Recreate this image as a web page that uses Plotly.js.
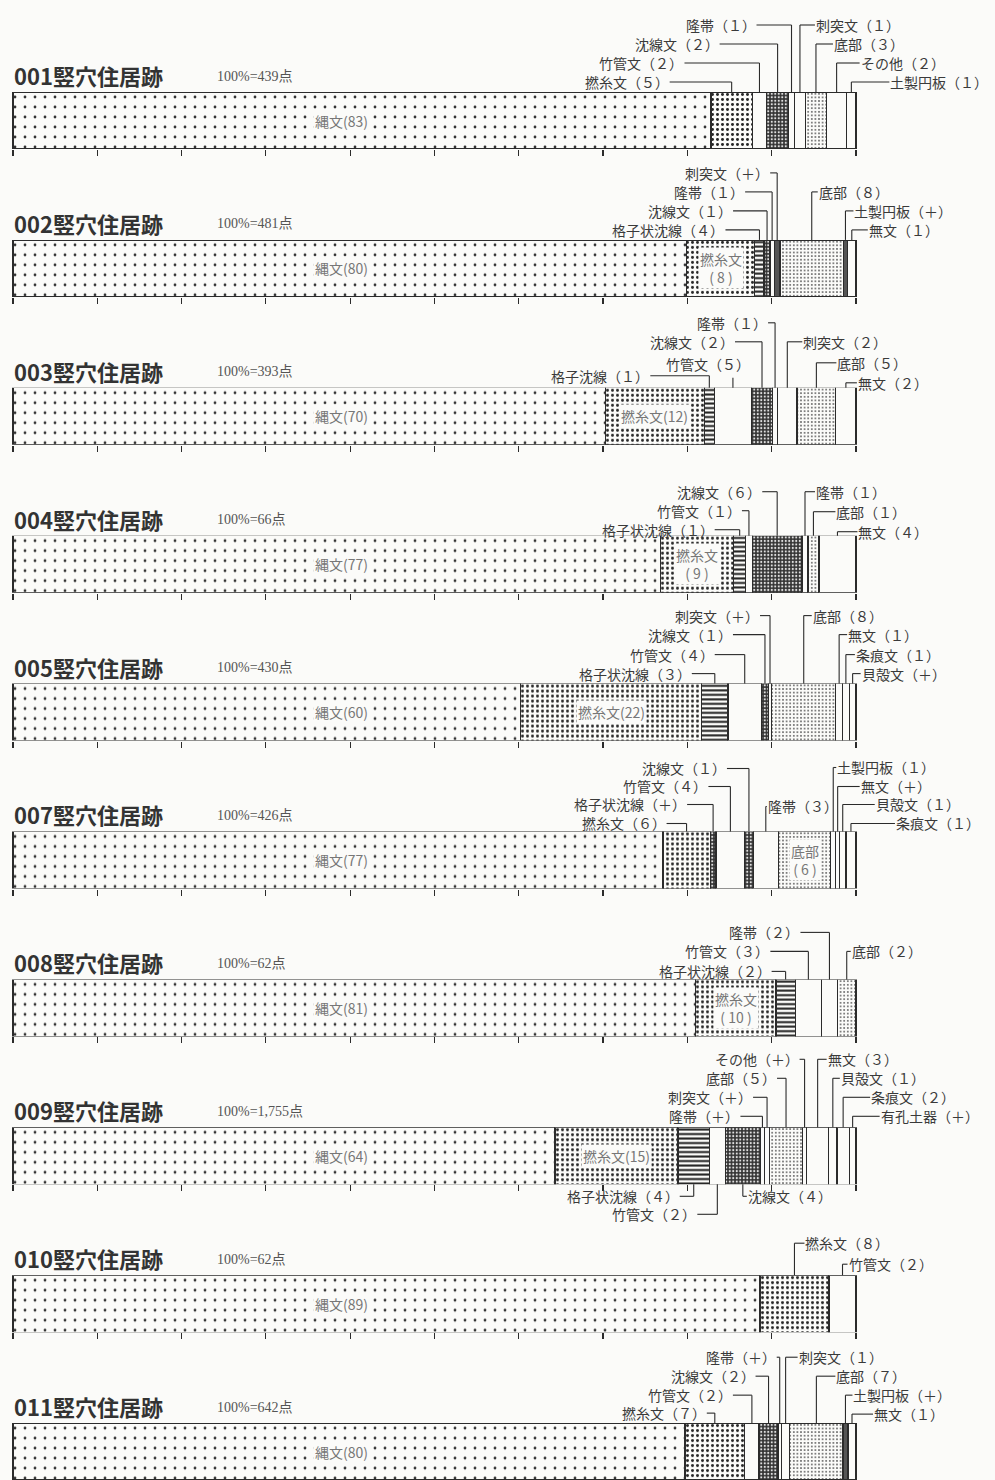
<!DOCTYPE html>
<html>
<head>
<meta charset="utf-8">
<script src="https://cdn.plot.ly/plotly-3.0.1.min.js"></script>
<style>
  body { margin: 0; background: #fbfbf9; }
  #chart { width: 995px; height: 1480px; }
</style>
</head>
<body>
<div id="chart"></div>
<script>
// 竪穴住居跡ごとの土器文様構成比 (横帯100%)
const houses = ["001", "002", "003", "004", "005", "007", "008", "009", "010", "011"];
const totals = ["439", "481", "393", "66", "430", "426", "62", "1,755", "62", "642"];

const cats = [
    ["縄文", "撚糸文", "竹管文", "沈線文", "隆帯", "刺突文", "底部", "その他", "土製円板"],
    ["縄文", "撚糸文", "格子状沈線", "沈線文", "隆帯", "刺突文", "底部", "土製円板", "無文"],
    ["縄文", "撚糸文", "格子沈線", "竹管文", "沈線文", "隆帯", "刺突文", "底部", "無文"],
    ["縄文", "撚糸文", "格子状沈線", "竹管文", "沈線文", "隆帯", "底部", "無文"],
    ["縄文", "撚糸文", "格子状沈線", "竹管文", "沈線文", "刺突文", "底部", "無文", "条痕文", "貝殻文"],
    ["縄文", "撚糸文", "格子状沈線", "竹管文", "沈線文", "隆帯", "底部", "土製円板", "無文", "貝殻文", "条痕文"],
    ["縄文", "撚糸文", "格子状沈線", "竹管文", "隆帯", "底部"],
    ["縄文", "撚糸文", "格子状沈線", "竹管文", "沈線文", "隆帯", "刺突文", "底部", "その他", "無文", "貝殻文", "条痕文", "有孔土器"],
    ["縄文", "撚糸文", "竹管文"],
    ["縄文", "撚糸文", "竹管文", "沈線文", "隆帯", "刺突文", "底部", "土製円板", "無文"]
];

// 図上の帯の幅 (%)
const widths = [
    [82.8, 4.9, 1.7, 2.6, 0.7, 1.3, 2.5, 2.4, 1.1],
    [79.9, 8.1, 1.1, 0.7, 0.5, 0.7, 7.5, 0.5, 1.0],
    [70.3, 11.7, 1.2, 4.4, 2.5, 0.6, 2.3, 4.6, 2.4],
    [76.8, 8.7, 1.4, 0.8, 5.9, 0.7, 1.3, 4.4],
    [60.2, 21.5, 3.1, 4.0, 0.8, 0.4, 7.6, 0.8, 0.8, 0.8],
    [77.1, 5.6, 0.7, 3.4, 1.0, 3.0, 6.2, 0.6, 0.45, 0.75, 1.2],
    [81.0, 9.5, 2.3, 3.1, 1.9, 2.2],
    [64.3, 14.6, 3.7, 1.9, 4.15, 0.5, 0.6, 3.9, 0.5, 2.6, 1.0, 1.45, 0.8],
    [88.6, 8.2, 3.2],
    [79.7, 7.1, 1.7, 2.25, 0.4, 1.0, 6.3, 0.6, 0.95]
];

// 表記された数値
const pcts = [
    ["83", "5", "2", "2", "1", "1", "3", "2", "1"],
    ["80", "8", "4", "1", "1", "+", "8", "+", "1"],
    ["70", "12", "1", "5", "2", "1", "2", "5", "2"],
    ["77", "9", "1", "1", "6", "1", "1", "4"],
    ["60", "22", "3", "4", "1", "+", "8", "1", "1", "+"],
    ["77", "6", "+", "4", "1", "3", "6", "1", "+", "1", "1"],
    ["81", "10", "2", "3", "2", "2"],
    ["64", "15", "4", "2", "4", "+", "+", "5", "+", "3", "1", "2", "+"],
    ["89", "8", "2"],
    ["80", "7", "2", "2", "+", "1", "7", "+", "1"]
];

// ラベルの置き方: J=縄文帯内, I/I2=帯内(1行/2行), L/R=上の引出線 [高さpx, 横線px], LB/RB=下の引出線, U=短い縦線の上
const place = [
    [["J"], ["L", 10, 62], ["L", 29, 75], ["L", 48, 58], ["L", 67, 35], ["R", 67, 15], ["R", 48, 17], ["R", 29, 23], ["R", 10, 38]],
    [["J"], ["I2"], ["L", 10, 34], ["L", 29, 34], ["L", 48, 27], ["L", 67, 7], ["R", 48, 6], ["R", 29, 8], ["R", 10, 16]],
    [["J"], ["I"], ["L", 12, 59], ["U", 24, -25, 10], ["L", 46, 27], ["L", 65, 7], ["R", 46, 15], ["R", 25, 20], ["R", 5, 11]],
    [["J"], ["I2"], ["L", 6, 25], ["L", 25, 7], ["L", 44, 15], ["R", 44, 10], ["R", 24, 22], ["R", 4, 20]],
    [["J"], ["I"], ["L", 10, 23], ["L", 29, 30], ["L", 49, 32], ["L", 68, 10], ["R", 68, 8], ["R", 49, 8], ["R", 29, 9], ["R", 10, 8]],
    [["J"], ["L", 8, 20], ["L", 27, 26], ["L", 45, 22], ["L", 63, 22], ["R", 25, 1], ["I2"], ["R", 64, 3], ["R", 45, 22], ["R", 27, 32], ["R", 8, 44]],
    [["J"], ["I2"], ["L", 8, 14], ["L", 28, 38], ["L", 47, 29], ["R", 28, 4]],
    [["J"], ["I"], ["LB", 12, 14], ["LB", 30, 20], ["RB", 12, 4], ["L", 11, 22], ["L", 30, 14], ["L", 49, 9], ["L", 68, 5], ["R", 68, 9], ["R", 49, 7], ["R", 30, 27], ["R", 11, 27]],
    [["J"], ["R", 32, 10], ["R", 11, 5]],
    [["J"], ["L", 10, 8], ["L", 28, 19], ["L", 47, 13], ["L", 66, 3], ["R", 66, 12], ["R", 47, 19], ["R", 28, 7], ["R", 9, 21]]
];

const PAPER = "#fbfbf9";
const INK = "#2b2b2b";
const W = 995, H = 1480;
const BAR_L = 13, BAR_R = 856;
const PX = (BAR_R - BAR_L) / 100;
const TOP0 = 92, STEP = 147.9, BAR_H = 57;
const JOMON_X = 39;

const styles = {
    "縄文": { shape: ".", size: 10, solidity: 0.06, fg: "#333", bg: PAPER },
    "撚糸文": { shape: ".", size: 5, solidity: 0.28, fg: "#262626", bg: PAPER },
    "格子状沈線": { shape: "-", size: 4.5, solidity: 0.45, fg: "#222", bg: PAPER },
    "沈線文": { shape: ".", size: 3.5, solidity: 0.3, fg: "#e0e0e0", bg: "#333" },
    "底部": { shape: ".", size: 3.6, solidity: 0.16, fg: "#444", bg: PAPER },
    "dark": { shape: "", size: 8, solidity: 0.3, fg: "#555", bg: "#555" },
    "plain": { shape: "", size: 8, solidity: 0.3, fg: PAPER, bg: PAPER }
};
styles["格子沈線"] = styles["格子状沈線"];
const overrides = { "002|刺突文": "dark", "002|土製円板": "dark", "011|土製円板": "dark", "007|格子状沈線": "沈線文" };

const labelFont = { family: "Noto Sans CJK JP", size: 14, color: "#3a3a3a" };
const innerFont = { family: "Noto Sans CJK JP", size: 14, color: "#777" };

function full(s) {
    return s.length === 1 ? String.fromCharCode(s.charCodeAt(0) + 0xFEE0) : s;
}

const traces = [];
const annotations = [];
const shapes = [];
const layout = {
    width: W,
    height: H,
    margin: { t: 0, r: 0, b: 0, l: 0 },
    paper_bgcolor: PAPER,
    plot_bgcolor: "rgba(0,0,0,0)",
    barmode: "stack",
    bargap: 0,
    showlegend: false,
    annotations: annotations,
    shapes: shapes
};

houses.forEach((h, i) => {
    const n = i === 0 ? "" : String(i + 1);
    const xa = "x" + n, ya = "y" + n, yd = ya + " domain";
    const top = TOP0 + i * STEP;
    const bot = top + BAR_H;

    layout["xaxis" + n] = {
        domain: [0, 1],
        range: [-BAR_L / PX, (W - BAR_L) / PX],
        anchor: ya,
        tickvals: [0, 10, 20, 30, 40, 50, 60, 70, 80, 90, 100],
        ticks: "outside",
        ticklen: 6,
        tickwidth: 1.2,
        tickcolor: INK,
        showticklabels: false,
        showgrid: false,
        zeroline: false,
        showline: false,
        fixedrange: true
    };
    layout["yaxis" + n] = {
        domain: [Math.max(0, 1 - bot / H), 1 - top / H],
        range: [-0.5, 0.5],
        anchor: xa,
        visible: false,
        fixedrange: true
    };

    annotations.push({
        xref: "paper", yref: yd, x: 12 / W, y: 1 + 17 / BAR_H,
        xanchor: "left", yanchor: "middle", showarrow: false,
        text: h + "竪穴住居跡",
        font: { family: "Noto Sans CJK JP", size: 22, color: "#333", weight: 700 }
    });
    annotations.push({
        xref: "paper", yref: yd, x: 215 / W, y: 1 + 16 / BAR_H,
        xanchor: "left", yanchor: "middle", showarrow: false,
        text: "100%=" + totals[i] + "点",
        font: { family: "Liberation Serif, Noto Sans CJK JP", size: 14, color: "#555" }
    });

    let cum = 0;
    cats[i].forEach((c, j) => {
        const w = widths[i][j];
        const st = styles[overrides[h + "|" + c] || c] || styles.plain;
        traces.push({
            type: "bar",
            orientation: "h",
            x: [w],
            y: [0],
            width: 1,
            xaxis: xa,
            yaxis: ya,
            name: c,
            hoverinfo: "skip",
            marker: {
                color: st.bg,
                line: { color: INK, width: 1.3 },
                pattern: { shape: st.shape, size: st.size, solidity: st.solidity, fgcolor: st.fg, bgcolor: st.bg, fillmode: "replace" }
            }
        });

        const mid = cum + w / 2;
        cum += w;
        const p = place[i][j];
        const kind = p[0];
        const pct = full(pcts[i][j]);
        const text = c + "（" + pct + "）";

        if (kind === "J" || kind === "I" || kind === "I2") {
            annotations.push({
                xref: xa, yref: yd, x: kind === "J" ? JOMON_X : mid, y: 0.5,
                xanchor: "center", yanchor: "middle", showarrow: false,
                text: kind === "I2" ? c + "<br>( " + pcts[i][j] + " )" : c + "(" + pcts[i][j] + ")",
                bgcolor: PAPER, borderpad: 1,
                font: innerFont
            });
            return;
        }

        const dy = p[1];
        const below = kind === "LB" || kind === "RB";
        const yLine = below ? -dy / BAR_H : 1 + dy / BAR_H;
        const lead = { color: INK, width: 1.1 };

        if (kind === "U") {
            shapes.push({ type: "line", xref: xa, yref: yd, x0: mid, x1: mid, y0: 1, y1: 1 + p[3] / BAR_H, line: lead });
            annotations.push({
                xref: xa, yref: yd, x: mid + p[2] / PX, y: yLine,
                xanchor: "center", yanchor: "middle", showarrow: false,
                borderpad: 0,
                text: text, font: labelFont
            });
            return;
        }

        const left = kind === "L" || kind === "LB";
        const xEnd = left ? mid - p[2] / PX : mid + p[2] / PX;
        shapes.push({ type: "line", xref: xa, yref: yd, x0: mid, x1: mid, y0: below ? 0 : 1, y1: yLine, line: lead });
        shapes.push({ type: "line", xref: xa, yref: yd, x0: mid, x1: xEnd, y0: yLine, y1: yLine, line: lead });
        annotations.push({
            xref: xa, yref: yd, x: xEnd, y: yLine,
            xanchor: left ? "right" : "left", yanchor: "middle", showarrow: false,
            borderpad: 0,
            text: text, font: labelFont
        });
    });
});

Plotly.newPlot("chart", traces, layout, { displayModeBar: false, staticPlot: true });
</script>
</body>
</html>
